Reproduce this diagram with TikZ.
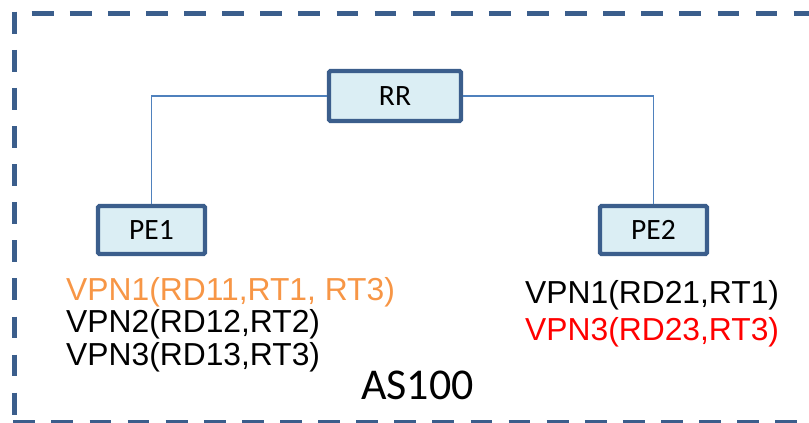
\documentclass[tikz,border=0pt]{standalone}
\usepackage{fontspec}
\setmainfont{Liberation Sans}
\newfontfamily\calibri{Carlito}
\definecolor{frameblue}{RGB}{59,94,140}
\definecolor{boxfill}{RGB}{219,238,244}
\definecolor{linkblue}{RGB}{79,129,189}
\definecolor{vpnorange}{RGB}{247,150,70}
\definecolor{vpnred}{RGB}{255,0,0}
\tikzset{
  router/.style={draw=frameblue, line width=4.3pt, fill=boxfill, rounded corners=1.5pt,
    minimum width=107pt, minimum height=48pt, inner sep=0pt,
    font=\calibri\fontsize{29.5}{29.5}\selectfont, text height=19pt, text depth=0pt},
  link/.style={draw=linkblue, line width=1.6pt},
  asframe/.style={draw=frameblue, line width=5pt, dash pattern=on 21.8pt off 16.3pt},
  vpnline/.style={anchor=base west, inner sep=0pt, font=\fontsize{31.8}{31.8}\selectfont},
}
\begin{document}
\begin{tikzpicture}[x=1pt,y=-1pt]
\useasboundingbox (0,0) rectangle (809,423);
% dashed AS boundary (left, top and bottom edges; the right edge lies outside)
\coordinate (tl) at (14,11.7);
\coordinate (tlh) at (31.7,13.5);
\coordinate (tr) at (860,13.5);
\coordinate (bl) at (13.3,422.5);
\coordinate (br) at (860,422.5);
\coordinate (lb) at (14,440);
\draw[asframe] (tl) -- (lb);
\draw[asframe] (tlh) -- (tr);
\draw[asframe] (bl) -- (br);
% routers
\node[router, minimum width=132pt, minimum height=50pt] (rr) at (395,96) {RR};
\node[router] (pe1) at (151.5,230) {PE1};
\node[router] (pe2) at (653.5,230) {PE2};
% iBGP sessions to the route reflector
\draw[link] (rr.west) -| (pe1.north);
\draw[link] (rr.east) -| (pe2.north);
% VRFs on PE1
\node[vpnline, text=vpnorange] (v11) at (66,300) {VPN1(RD11,RT1, RT3)};
\node[vpnline] (v12) at (66,332) {VPN2(RD12,RT2)};
\node[vpnline] (v13) at (66,365) {VPN3(RD13,RT3)};
% VRFs on PE2
\node[vpnline] (v21) at (525,303) {VPN1(RD21,RT1)};
\node[vpnline, text=vpnred] (v23) at (525,340) {VPN3(RD23,RT3)};
% AS number
\node[anchor=base west, inner sep=0pt, font=\calibri\fontsize{44}{44}\selectfont] (as) at (361,399) {AS100};
\end{tikzpicture}
\end{document}
